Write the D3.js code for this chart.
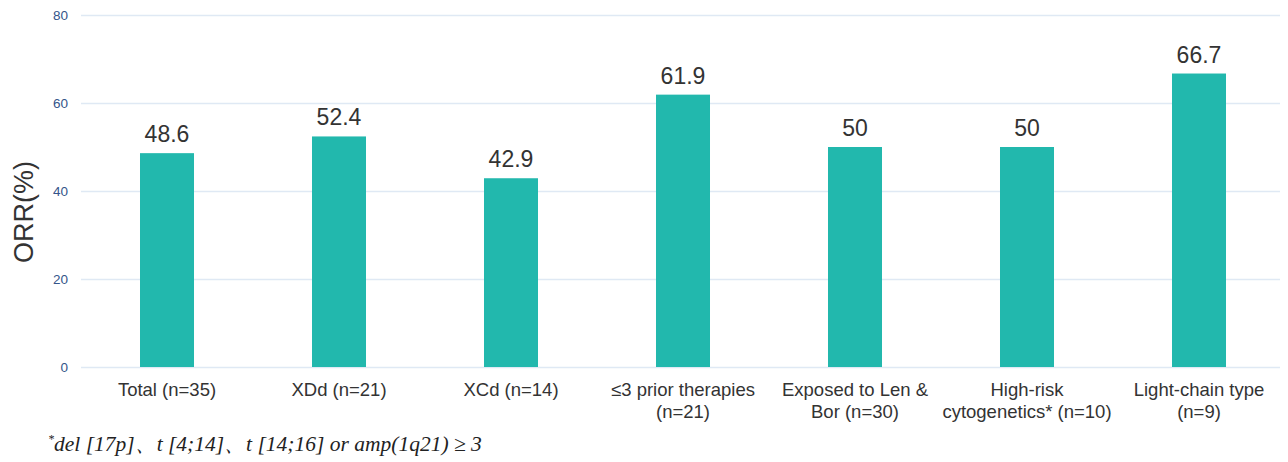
<!DOCTYPE html>
<html><head><meta charset="utf-8">
<script src="https://cdn.jsdelivr.net/npm/d3@7"></script>
<style>body{margin:0;background:#fff;}svg{display:block;}</style>
</head><body>
<svg id="c" width="1288" height="462"></svg>
<script>
const categories = [["Total (n=35)"],["XDd (n=21)"],["XCd (n=14)"],["\u22643 prior therapies","(n=21)"],["Exposed to Len &","Bor (n=30)"],["High-risk","cytogenetics* (n=10)"],["Light-chain type","(n=9)"]];
const values = [48.6, 52.4, 42.9, 61.9, 50, 50, 66.7];
const valueLabels = ["48.6","52.4","42.9","61.9","50","50","66.7"];
const yTicks = [0, 20, 40, 60, 80];

const svg = d3.select("#c");
const m = {l:81, r:3, t:15, b:95};
const W = 1288, H = 462;
const FONT = "Liberation Sans, Arial, sans-serif";
const x = d3.scaleBand().domain(d3.range(categories.length)).range([m.l, W - m.r]).paddingInner(0.686).paddingOuter(0.343);
const y = d3.scaleLinear().domain([0, 80]).range([H - m.b, m.t]);

const yAxis = d3.axisLeft(y).tickValues(yTicks).tickSize(-(W - m.l - 8)).tickPadding(13);
const gy = svg.append("g").attr("transform", `translate(${m.l},0)`).call(yAxis);
gy.select(".domain").remove();
gy.selectAll(".tick line").attr("stroke", "#dfe9f4").attr("stroke-width", 1.5);
gy.selectAll(".tick text").attr("fill", "#34558a").attr("font-family", FONT).attr("font-size", 13.5);

svg.append("g").selectAll("rect").data(values).join("rect")
  .attr("x", (d,i) => x(i)).attr("width", x.bandwidth())
  .attr("y", d => y(d)).attr("height", d => y(0) - y(d))
  .attr("fill", "#22b8ad");

svg.append("g").selectAll("text").data(values).join("text")
  .attr("x", (d,i) => x(i) + x.bandwidth()/2).attr("y", d => y(d) - 11)
  .attr("text-anchor", "middle").attr("fill", "#333").attr("font-family", FONT).attr("font-size", 23)
  .text((d,i) => valueLabels[i]);

const xl = svg.append("g").selectAll("text").data(categories).join("text")
  .attr("x", (d,i) => x(i) + x.bandwidth()/2).attr("y", 396)
  .attr("text-anchor", "middle").attr("fill", "#333").attr("font-family", FONT).attr("font-size", 18.5);
xl.selectAll("tspan").data(d => d).join("tspan")
  .attr("x", function(){ return d3.select(this.parentNode).attr("x"); })
  .attr("dy", (d,i) => i === 0 ? 0 : 22).text(d => d);

svg.append("text").attr("transform", "translate(33,212) rotate(-90)")
  .attr("text-anchor", "middle").attr("fill", "#333").attr("font-family", FONT).attr("font-size", 27)
  .text("ORR(%)");

const fn = svg.append("text").attr("x", 48).attr("y", 451).attr("font-family", "Liberation Serif, Times New Roman, serif").attr("font-style", "italic").attr("font-size", 21.5).attr("fill", "#222");
fn.append("tspan").attr("font-size", 12).attr("dy", -8).text("*");
fn.append("tspan").attr("dy", 8).text("del [17p]\u3001t [4;14]\u3001t [14;16] or amp(1q21) \u2265 3");
</script>
</body></html>
